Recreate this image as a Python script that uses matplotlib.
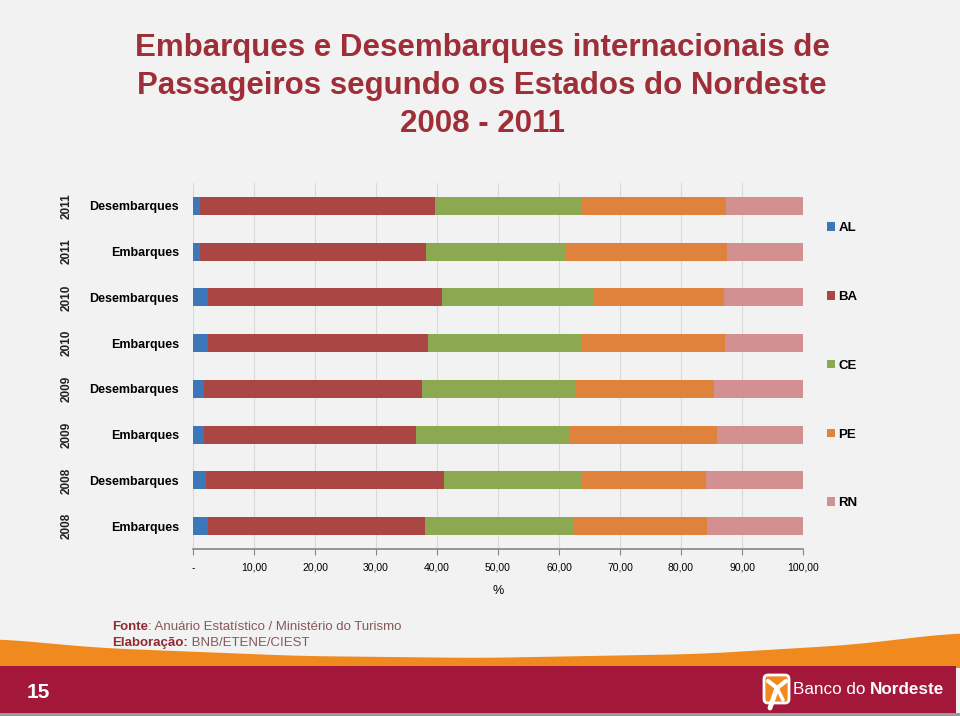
import matplotlib
matplotlib.use("Agg")
import matplotlib.pyplot as plt
import matplotlib.transforms as mtransforms
from matplotlib.patches import Polygon, Rectangle, FancyBboxPatch
import numpy as np

plt.rcParams['font.family'] = ['Liberation Sans', 'DejaVu Sans']

# ---- data (bottom to top) ----
categories = ["Embarques", "Desembarques", "Embarques", "Desembarques",
              "Embarques", "Desembarques", "Embarques", "Desembarques"]
years = ["2008", "2008", "2009", "2009", "2010", "2010", "2011", "2011"]
states = ["AL", "BA", "CE", "PE", "RN"]
AL = [2.5, 2.2, 1.8, 1.8, 2.4, 2.4, 1.1, 1.1]
BA = [35.5, 38.9, 34.8, 35.7, 36.2, 38.5, 37.1, 38.6]
CE = [24.5, 22.6, 25.2, 25.3, 25.2, 24.6, 23.0, 24.0]
PE = [21.8, 20.4, 24.1, 22.6, 23.4, 21.6, 26.3, 23.7]
RN = [15.7, 15.9, 14.1, 14.6, 12.8, 12.9, 12.5, 12.6]
xticks = [0, 10, 20, 30, 40, 50, 60, 70, 80, 90, 100]
xticklabels = ["-", "10,00", "20,00", "30,00", "40,00", "50,00", "60,00",
               "70,00", "80,00", "90,00", "100,00"]

series = [AL, BA, CE, PE, RN]
colors = ["#3C78B9", "#AA4644", "#8CA850", "#DE823C", "#D29091"]

W, H = 960, 716
fig = plt.figure(figsize=(W / 100, H / 100), dpi=100)
fig.patch.set_facecolor("#F2F2F2")

# background decoration axes (pixel coordinates)
bg = fig.add_axes([0, 0, 1, 1], zorder=-1)
bg.set_xlim(0, W)
bg.set_ylim(H, 0)
bg.axis("off")
bg.patch.set_alpha(0)
# orange swoosh
cx = [0, 100, 300, 480, 700, 850, 955, 960]
cy = [639, 648, 656, 658, 654, 645, 633, 633]
xs = np.linspace(0, 960, 300)
top = np.interp(xs, cx, cy)
top = np.convolve(np.pad(top, 10, mode="edge"), np.ones(21) / 21, mode="valid")
pts = list(zip(xs, top)) + [(W, 668), (0, 668)]
bg.add_patch(Polygon(pts, closed=True, facecolor="#F08A1E", edgecolor="none"))
# dark red band
bg.add_patch(Rectangle((0, 666), 956, 47, facecolor="#A3173B", edgecolor="none"))
bg.add_patch(Rectangle((0, 713), W, 3, facecolor="#9A9A9A", edgecolor="none"))
# logo
bg.add_patch(FancyBboxPatch((764, 675), 25, 28, boxstyle="round,pad=0,rounding_size=4",
                            facecolor="#F08A1E", edgecolor="white", linewidth=2))
bg.plot([768, 777, 786], [681, 688, 681], color="white", lw=3, solid_capstyle="round")
bg.plot([777, 770], [688, 708], color="white", lw=3.5, solid_capstyle="round")
bg.plot([777, 783], [688, 700], color="white", lw=2.5, solid_capstyle="round")

# main axes
left, right, top_px, bottom_px = 193, 803, 183, 549
ax = fig.add_axes([left / W, 1 - bottom_px / H, (right - left) / W, (bottom_px - top_px) / H])
ax.patch.set_alpha(0)
y = np.arange(len(categories))
cum = np.zeros(len(categories))
for name, vals, c in zip(states, series, colors):
    ax.barh(y, vals, left=cum, height=0.39, color=c, label=name, zorder=3)
    cum = cum + np.array(vals)

ax.set_xlim(0, 100)
ax.set_ylim(-0.5, len(categories) - 0.5)
ax.set_xticks(xticks)
ax.set_xticklabels(xticklabels, fontsize=7.5)
ax.set_yticks(y)
ax.set_yticklabels(categories, fontsize=9, fontweight="bold")
ax.tick_params(axis="y", length=0, pad=10)
ax.tick_params(axis="x", length=4, color="#868686", pad=6, direction="out")
for s in ["top", "right", "left"]:
    ax.spines[s].set_visible(False)
ax.spines["bottom"].set_color("#868686")
ax.spines["bottom"].set_linewidth(1.2)
ax.grid(axis="x", color="#D9D9D9", linewidth=0.8, zorder=0)
ax.set_axisbelow(True)
ax.set_xlabel("%", fontsize=9, labelpad=9)

# year labels
trans = mtransforms.blended_transform_factory(fig.transFigure, ax.transData)
for yi, yr in zip(y, years):
    ax.text(67 / W, yi, yr, transform=trans, rotation=90, ha="center", va="center",
            fontsize=8.5, fontweight="bold", color="#222222")

# legend
leg = ax.legend(loc="upper left", bbox_to_anchor=(1.02, 0.925), frameon=False,
                prop={"size": 9.5, "weight": "bold"}, labelspacing=4.3,
                handlelength=0.6, handleheight=0.6, handletextpad=0.25)

# title
title_color = "#9E2E37"
for ty, txt in [(48, "Embarques e Desembarques internacionais de"),
                (86, "Passageiros segundo os Estados do Nordeste"),
                (124, "2008 - 2011")]:
    fig.text(482 / W, 1 - ty / H, txt, ha="center", va="center", fontsize=22.5,
             fontweight="bold", color=title_color)

# footer
bold_c = "#8E2A33"
reg_c = "#86585B"
t1 = fig.text(112 / W, 1 - 627 / H, "Fonte", fontsize=9.5, fontweight="bold",
              color=bold_c, va="center", ha="left")
ax.annotate(": Anuário Estatístico / Ministério do Turismo", xy=(1, 0.5), xycoords=t1,
            va="center", ha="left", fontsize=9.5, color=reg_c, annotation_clip=False)
t2 = fig.text(112 / W, 1 - 643 / H, "Elaboração:", fontsize=9.5, fontweight="bold",
              color=bold_c, va="center", ha="left")
ax.annotate(" BNB/ETENE/CIEST", xy=(1, 0.5), xycoords=t2,
            va="center", ha="left", fontsize=9.5, color=reg_c, annotation_clip=False)
fig.text(38 / W, 1 - 692 / H, "15", fontsize=15, fontweight="bold", color="white",
         va="center", ha="center")
t3 = fig.text(793 / W, 1 - 690 / H, "Banco do ", fontsize=12.3, color="white",
              va="center", ha="left")
ax.annotate("Nordeste", xy=(1, 0.5), xycoords=t3, va="center", ha="left",
            fontsize=12.3, fontweight="bold", color="white", annotation_clip=False)

fig.savefig("out.png", dpi=100, facecolor=fig.get_facecolor())
